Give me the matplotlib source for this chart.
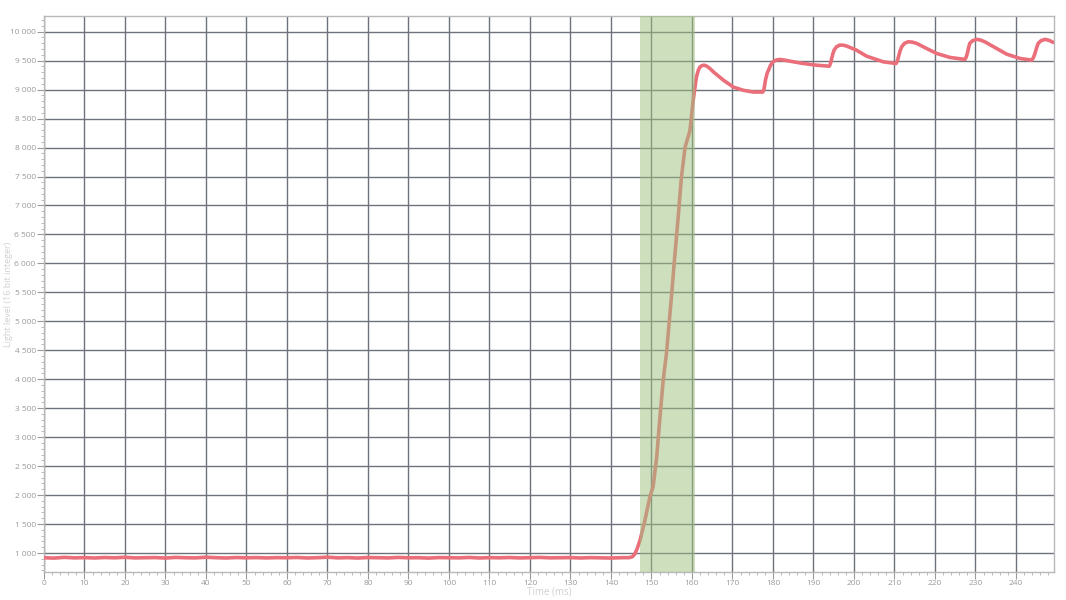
import matplotlib.pyplot as plt
from matplotlib.ticker import MultipleLocator, FuncFormatter

# data: time (ms) and light level
base_t = [0, 2.5, 5, 7.5, 10, 12.5, 15, 17.5, 20, 22.5, 25, 27.5, 30, 32.5, 35, 37.5,
          40, 42.5, 45, 47.5, 50, 52.5, 55, 57.5, 60, 62.5, 65, 67.5, 70, 72.5, 75,
          77.5, 80, 82.5, 85, 87.5, 90, 92.5, 95, 97.5, 100, 102.5, 105, 107.5, 110,
          112.5, 115, 117.5, 120, 122.5, 125, 127.5, 130, 132.5, 135, 137.5, 140,
          142.5, 144.5]
base_v = [918, 912, 925, 916, 920, 914, 922, 917, 926, 915, 919, 921, 913, 924, 918,
          916, 927, 919, 914, 922, 917, 921, 915, 920, 918, 923, 914, 919, 928, 916,
          920, 913, 922, 918, 915, 924, 917, 919, 912, 921, 918, 916, 923, 914, 920,
          917, 922, 915, 919, 924, 916, 918, 921, 914, 920, 917, 913, 919, 920]

rise_t = [145.3, 145.9, 146.5, 147.2, 148.4, 149.6, 150.4, 151.3, 152.1, 152.9, 153.7,
          155.0, 155.6, 156.6, 157.4, 158.3, 159.5, 160.3, 161.1, 161.6, 162.0, 162.5,
          163.0, 163.8, 164.5]
rise_v = [935, 985, 1080, 1224, 1569, 1966, 2143, 2660, 3350, 3983, 4443,
          5478, 5995, 6800, 7489, 8005, 8293, 8810, 9219, 9340, 9392, 9415,
          9422, 9400, 9360]

pulse_t = [165.3, 167.8, 170.2, 172.7, 175.2, 177.5, 177.8, 178.2, 178.6, 178.9, 179.4,
           180.0, 180.8, 181.7, 182.8, 184.2, 187.5, 190.8, 193.9, 194.2, 194.5, 194.8,
           195.1, 195.7, 196.5, 197.3, 198.2, 200.6, 203.1, 206.0, 207.3, 210.4, 210.7,
           211.0, 211.4, 211.8, 212.5, 213.4, 214.4, 215.5, 217.9, 220.4, 223.7, 227.4,
           227.7, 228.0, 228.3, 228.6, 229.3, 230.3, 231.3, 232.3, 235.2, 237.7, 241.0,
           243.9, 244.3, 244.7, 245.1, 245.5, 246.2, 247.2, 248.2, 249.2]
pulse_v = [9306, 9161, 9045, 8988, 8958, 8958, 9010, 9180, 9290, 9335, 9420,
           9479, 9510, 9521, 9510, 9491, 9451, 9422, 9404, 9450, 9538, 9620,
           9682, 9740, 9769, 9768, 9752, 9682, 9578, 9509, 9479, 9451, 9490,
           9566, 9670, 9740, 9800, 9826, 9820, 9798, 9712, 9625, 9556, 9521,
           9560, 9625, 9720, 9799, 9845, 9868, 9855, 9826, 9712, 9613, 9538,
           9509, 9550, 9625, 9720, 9799, 9845, 9868, 9850, 9816]

time = base_t + rise_t + pulse_t
level = base_v + rise_v + pulse_v

span_start, span_end = 147.2, 160.7

plt.rcParams['font.family'] = ['Open Sans', 'DejaVu Sans']

fig = plt.figure(figsize=(10.66, 6), dpi=100)
ax = fig.add_axes([44 / 1066, 28 / 600, 1010 / 1066, 556 / 600])

ax.plot(time, level, color='#ea6f7a', lw=2.6, solid_joinstyle='round',
        solid_capstyle='round', zorder=3)
ax.axvspan(span_start, span_end, color='#9fc17f', alpha=0.5, lw=0, zorder=4)

ax.set_xlim(0, 249.4)
ax.set_ylim(672, 10271)

ax.xaxis.set_major_locator(MultipleLocator(10))
ax.xaxis.set_minor_locator(MultipleLocator(2))
ax.yaxis.set_major_locator(MultipleLocator(500))
ax.yaxis.set_minor_locator(MultipleLocator(100))
ax.yaxis.set_major_formatter(FuncFormatter(lambda v, p: f'{int(v):,}'.replace(',', ' ')))

ax.grid(True, which='major', color='#6e727a', lw=1.0, zorder=1)
ax.set_axisbelow(True)

ax.tick_params(axis='both', which='major', labelsize=6, labelcolor='#9a9a9a',
               color='#9a9a9a', length=5, width=0.8, pad=1)
ax.tick_params(axis='both', which='minor', color='#b0b0b0', length=2.5, width=0.6)

for s in ax.spines.values():
    s.set_color('#b8b8b8')
    s.set_linewidth(1.0)

ax.set_xlabel('Time (ms)', fontsize=7, color='#d0d0d0')
ax.set_ylabel('Light level (16 bit integer)', fontsize=6.5, color='#d0d0d0',
              va='center', ha='center')
ax.xaxis.set_label_coords(0.5, -14 / 556)
ax.yaxis.set_label_coords(-35 / 1010, 0.5)

fig.savefig('out.png', dpi=100)
